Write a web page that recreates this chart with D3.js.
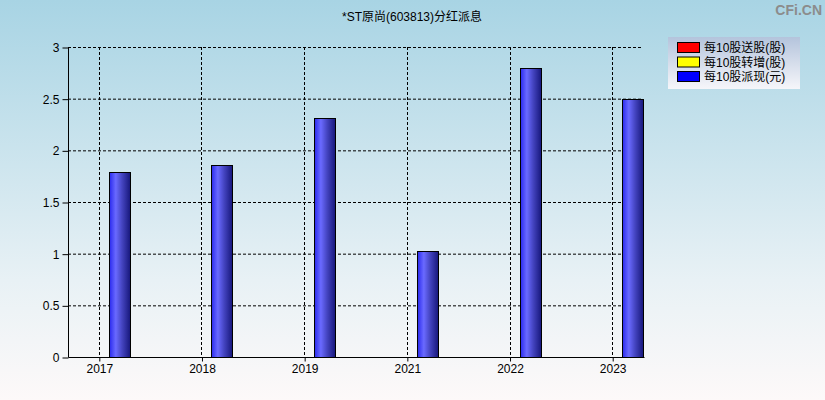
<!DOCTYPE html>
<html><head><meta charset="utf-8">
<script src="https://cdn.jsdelivr.net/npm/d3@7/dist/d3.min.js"></script>
<style>body{margin:0;padding:0;overflow:hidden}svg{display:block}text{font-family:"Liberation Sans",Arial,"Noto Sans CJK SC",sans-serif}</style>
</head><body>
<script>
const title = "*ST原尚(603813)分红派息";
const categories = ["2017","2018","2019","2021","2022","2023"];
const cashDividend = [1.79, 1.86, 2.31, 1.03, 2.80, 2.50];
const yTicks = [0, 0.5, 1, 1.5, 2, 2.5, 3];
const legendLabels = ["每10股送股(股)", "每10股转增(股)", "每10股派现(元)"];
const legendColors = ["#ff0000", "#ffff00", "#0000ff"];

const W = 825, H = 400;
const m = {left: 68, right: 182, top: 47, bottom: 43};
const svg = d3.select("body").append("svg").attr("width", W).attr("height", H);
const defs = svg.append("defs");
const bg = defs.append("linearGradient").attr("id","bg").attr("x1",0).attr("y1",0).attr("x2",0).attr("y2",1);
bg.append("stop").attr("offset","0%").attr("stop-color","#a8d4e4");
bg.append("stop").attr("offset","70%").attr("stop-color","#e8f1f5");
bg.append("stop").attr("offset","100%").attr("stop-color","#fdf9f9");
const bar = defs.append("linearGradient").attr("id","bar").attr("x1",0).attr("y1",0).attr("x2",1).attr("y2",0);
bar.append("stop").attr("offset","0%").attr("stop-color","#2a2aee");
bar.append("stop").attr("offset","30%").attr("stop-color","#6a6aff");
bar.append("stop").attr("offset","60%").attr("stop-color","#4444c0");
bar.append("stop").attr("offset","100%").attr("stop-color","#16167a");
const lg = defs.append("linearGradient").attr("id","lg").attr("x1",0).attr("y1",0).attr("x2",0).attr("y2",1);
lg.append("stop").attr("offset","0%").attr("stop-color","#b4c4dc");
lg.append("stop").attr("offset","100%").attr("stop-color","#f6f6fa");

svg.append("rect").attr("width",W).attr("height",H).attr("fill","url(#bg)");

const x = d3.scalePoint().domain(categories).range([m.left, W - m.right]).padding(0.3);
const y = d3.scaleLinear().domain([0, 3]).range([H - m.bottom, m.top]);

const g = svg.append("g");
// horizontal grid
g.selectAll(".hg").data(yTicks.filter(d => d > 0)).join("line")
  .attr("x1", m.left).attr("x2", W - m.right)
  .attr("y1", d => y(d) + 0.5).attr("y2", d => y(d) + 0.5)
  .attr("stroke","#000").attr("stroke-dasharray","3,2");
// vertical grid
g.selectAll(".vg").data(categories).join("line")
  .attr("x1", d => Math.round(x(d)) + 0.5).attr("x2", d => Math.round(x(d)) + 0.5)
  .attr("y1", m.top).attr("y2", H - m.bottom)
  .attr("stroke","#000").attr("stroke-dasharray","3,2");

// bars
g.selectAll(".bar").data(categories).join("rect")
  .attr("x", d => Math.round(x(d)) + 10.5)
  .attr("width", 21)
  .attr("y", (d,i) => Math.round(y(cashDividend[i])) + 0.5)
  .attr("height", (d,i) => Math.round(y(0)) - Math.round(y(cashDividend[i])))
  .attr("fill","url(#bar)").attr("stroke","#000").attr("stroke-width",1);

// axes
const yAxis = d3.axisLeft(y).tickValues(yTicks).tickSize(6).tickFormat(d3.format("~g"));
const ya = svg.append("g").attr("transform", `translate(${m.left + 0.5},0.5)`).call(yAxis);
const xAxis = d3.axisBottom(x).tickSize(4);
const xa = svg.append("g").attr("transform", `translate(0.5,${H - m.bottom + 0.5})`).call(xAxis);
[ya, xa].forEach(a => {
  a.select(".domain").attr("stroke","#000");
  a.selectAll(".tick line").attr("stroke","#000");
  a.selectAll("text").attr("fill","#000").style("font-size","12px").style("font-family",'"Liberation Sans",Arial,sans-serif');
});
xa.select(".domain").attr("d", `M${m.left},0H${W - m.right + 1}`);
ya.select(".domain").attr("d", `M0,${m.top}V${H - m.bottom}`);
ya.selectAll(".tick text").attr("x", -9);
xa.selectAll(".tick text").attr("y", 7);

// title
svg.append("text").attr("x", 412).attr("y", 21).attr("text-anchor","middle")
  .style("font-size","12px").attr("fill","#000").text(title);

// watermark
svg.append("text").attr("x", 822).attr("y", 15).attr("text-anchor","end")
  .style("font-size","14px").style("font-weight","bold").attr("fill","#8c8c8c").text("CFi.CN");

// legend
const lgG = svg.append("g");
lgG.append("rect").attr("x",668).attr("y",37).attr("width",132).attr("height",52).attr("fill","url(#lg)");
legendLabels.forEach((t,i) => {
  const yy = 42 + i*14.5;
  lgG.append("rect").attr("x",677.5).attr("y",yy + 0.5).attr("width",22).attr("height",10)
    .attr("fill",legendColors[i]).attr("stroke","#000");
  lgG.append("text").attr("x",704).attr("y",yy + 10).style("font-size","12px").attr("fill","#000").text(t);
});
</script>
</body></html>
